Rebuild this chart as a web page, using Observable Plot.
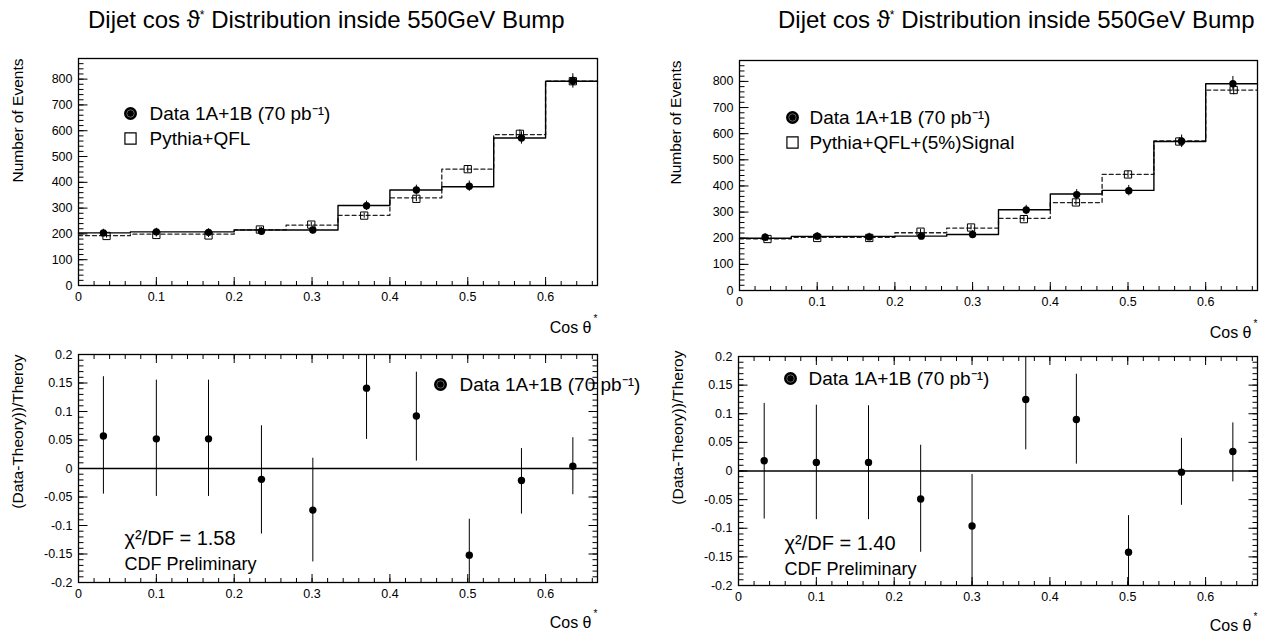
<!DOCTYPE html>
<html><head><meta charset="utf-8">
<script src="https://cdn.jsdelivr.net/npm/d3@7"></script>
<script src="https://cdn.jsdelivr.net/npm/@observablehq/plot@0.6"></script>
<style>
html,body{margin:0;padding:0;background:#fff;}
#root{position:relative;width:1268px;height:633px;overflow:hidden;background:#fff;}
.panel{position:absolute;}
.panel svg{overflow:visible;}
.title{position:absolute;font-family:"Liberation Sans",Arial,sans-serif;font-size:24px;color:#000;white-space:nowrap;line-height:1;}
.title sup{font-size:12px;vertical-align:9px;}
</style></head><body><div id="root"></div>
<script>
// ---------- data ----------
const nBins = 10;
const xMax = 2 / 3;
const xTickLabels = [0, 0.1, 0.2, 0.3, 0.4, 0.5, 0.6];
const countTicks = [0, 100, 200, 300, 400, 500, 600, 700, 800];
const residTicks = [-0.2, -0.15, -0.1, -0.05, 0, 0.05, 0.1, 0.15, 0.2];

// left column: Pythia+QFL
const dataXL = [0.032, 0.1, 0.167, 0.235, 0.301, 0.37, 0.434, 0.502, 0.569, 0.635];
const theoryXL = [0.036, 0.1, 0.167, 0.233, 0.299, 0.367, 0.434, 0.5, 0.567, 0.635];
const dataHistL = [204, 208, 208, 215, 215, 310, 370, 383, 572, 792];
const dataL = [204, 208, 206, 210, 215, 309, 370, 385, 572, 793];
const dataErrL = [14, 14, 14, 15, 15, 18, 19, 20, 24, 28];
const theoryHistL = [193, 199, 199, 216, 234, 272, 340, 451, 585, 792];
const theoryL = [192, 196, 194, 217, 236, 271, 336, 451, 588, 792];
const theoryErrL = [8, 8, 8, 9, 9, 10, 11, 13, 15, 18];
const residL = [0.057, 0.052, 0.052, -0.019, -0.073, 0.141, 0.092, -0.152, -0.021, 0.004];
const residHiL = [0.161, 0.155, 0.155, 0.075, 0.018, 0.23, 0.169, -0.089, 0.035, 0.054];
const residLoL = [-0.045, -0.049, -0.049, -0.115, -0.164, 0.051, 0.013, -0.215, -0.080, -0.046];

// right column: Pythia+QFL+(5%)Signal
const dataXR = [0.033, 0.1, 0.167, 0.234, 0.3, 0.369, 0.434, 0.501, 0.569, 0.635];
const theoryXR = [0.036, 0.1, 0.167, 0.233, 0.298, 0.366, 0.433, 0.5, 0.566, 0.636];
const dataHistR = [200, 207, 207, 208, 214, 309, 369, 383, 570, 791];
const dataR = [204, 208, 205, 208, 214, 308, 367, 382, 571, 791];
const dataErrR = [14, 14, 14, 14, 15, 18, 19, 20, 24, 28];
const theoryHistR = [198, 203, 203, 221, 239, 276, 336, 444, 572, 767];
const theoryR = [197, 201, 201, 225, 241, 273, 337, 444, 570, 767];
const theoryErrR = [8, 8, 8, 9, 9, 10, 11, 13, 15, 18];
const residR = [0.018, 0.015, 0.015, -0.049, -0.096, 0.125, 0.090, -0.142, -0.002, 0.034];
const residHiR = [0.118, 0.115, 0.114, 0.045, -0.006, 0.215, 0.169, -0.078, 0.057, 0.084];
const residLoR = [-0.084, -0.085, -0.085, -0.142, -0.205, 0.037, 0.012, -0.206, -0.060, -0.019];

const titleText = ["Dijet cos ϑ", "*", " Distribution inside 550GeV Bump"];
const legendData = "Data 1A+1B (70 pb⁻¹)";
const legendTheoryL = "Pythia+QFL";
const legendTheoryR = "Pythia+QFL+(5%)Signal";
const chiL = "χ²/DF = 1.58";
const chiR = "χ²/DF = 1.40";
const prelim = "CDF Preliminary";
const yLabelTop = "Number of Events";
const yLabelBottom = "(Data-Theory))/Theroy";
const xLabel = "Cos θ";

// ---------- helpers ----------
const FONT = "Liberation Sans, Arial, sans-serif";
const root = document.getElementById("root");
const edges = d3.range(nBins + 1).map(i => i * xMax / nBins);
const steps = hist => edges.map((e, i) => ({x: e, y: hist[Math.min(i, nBins - 1)]}));
const fmt = d => String(+d.toFixed(2));
const blank = () => "";

function place(svg, left, top) {
  const div = document.createElement("div");
  div.className = "panel";
  div.style.left = left + "px";
  div.style.top = top + "px";
  div.appendChild(svg);
  root.appendChild(div);
}

// inward ticks: y ticks as short segments, x ticks through Plot's own axis marks shifted inward
function frameTicks(yDom, yMajor, yMinor, box, W, H) {
  const xMinor = d3.range(0, xMax + 1e-9, 0.02);
  const kx = xMax / W;
  const segs = [];
  yMajor.forEach(v => segs.push({x1: 0, x2: 9 * kx, y: v}));
  yMinor.forEach(v => segs.push({x1: 0, x2: 5 * kx, y: v}));
  if (box) {
    yMajor.forEach(v => segs.push({x1: xMax, x2: xMax - 9 * kx, y: v}));
    yMinor.forEach(v => segs.push({x1: xMax, x2: xMax - 5 * kx, y: v}));
  }
  const tk = {tickFormat: blank, label: null, stroke: "black", strokeWidth: 1};
  const m = [
    Plot.link(segs, {x1: "x1", y1: "y", x2: "x2", y2: "y", stroke: "black", strokeWidth: 1}),
    Plot.axisX({anchor: "bottom", ticks: xTickLabels, tickSize: 8, dy: -8, ...tk}),
    Plot.axisX({anchor: "bottom", ticks: xMinor, tickSize: 4, dy: -4, ...tk})
  ];
  if (box) {
    m.push(
      Plot.axisX({anchor: "top", ticks: xTickLabels, tickSize: 8, dy: 8, ...tk}),
      Plot.axisX({anchor: "top", ticks: xMinor, tickSize: 4, dy: 4, ...tk})
    );
  }
  return m;
}

function axesAndLabels(yTicks, yLabel, yLabDx, yLabDy, xLabDy) {
  return [
    Plot.axisX({ticks: xTickLabels, tickSize: 0, tickPadding: 7, tickFormat: fmt, label: null, fontSize: 12.5}),
    Plot.axisY({ticks: yTicks, tickSize: 0, tickPadding: 6, tickFormat: fmt, label: null, fontSize: 12.5}),
    Plot.text([yLabel], {frameAnchor: "top-left", text: d => d, rotate: -90, textAnchor: "end", lineAnchor: "middle", dx: yLabDx, dy: yLabDy, fontSize: 15.5, fontFamily: FONT}),
    Plot.text([xLabel], {frameAnchor: "bottom-right", text: d => d, textAnchor: "end", lineAnchor: "middle", dx: -6, dy: xLabDy, fontSize: 16, fontFamily: FONT}),
    Plot.text(["*"], {frameAnchor: "bottom-right", text: d => d, textAnchor: "middle", lineAnchor: "middle", dx: -2, dy: xLabDy - 9, fontSize: 10, fontFamily: FONT})
  ];
}

function legendDot(dx, dy) {
  return [
    Plot.dot([0], {frameAnchor: "top-left", dx, dy, r: 6.5, fill: "black"}),
    Plot.dot([0], {frameAnchor: "top-left", dx, dy, r: 3.7, fill: "none", stroke: "#777", strokeWidth: 0.8})
  ];
}
function legendText(str, dx, dy, size = 19) {
  return Plot.text([str], {frameAnchor: "top-left", text: d => d, textAnchor: "start", lineAnchor: "middle", dx, dy, fontSize: size, fontFamily: FONT});
}

function topPanel({left, top, width, height, mL, mR, mT, mB, dataX, theoryX, dataHist, dataV, dataErr, theoryHist, theoryV, theoryErr, legendTheory, leg, yLabDx}) {
  const W = width - mL - mR, H = height - mT - mB;
  const yDom = [0, 880];
  const d = dataX.map((x, i) => ({x, y: dataV[i], lo: dataV[i] - dataErr[i], hi: dataV[i] + dataErr[i]}));
  const t = theoryX.map((x, i) => ({x, y: theoryV[i], lo: theoryV[i] - theoryErr[i], hi: theoryV[i] + theoryErr[i]}));
  const svg = Plot.plot({
    width, height, marginLeft: mL, marginRight: mR, marginTop: mT, marginBottom: mB,
    x: {domain: [0, xMax]}, y: {domain: yDom},
    style: {fontFamily: FONT, overflow: "visible", background: "transparent", color: "black"},
    marks: [
      Plot.line(steps(theoryHist), {x: "x", y: "y", curve: "step-after", stroke: "#222", strokeWidth: 1.3, strokeDasharray: "4,3"}),
      Plot.line(steps(dataHist), {x: "x", y: "y", curve: "step-after", stroke: "black", strokeWidth: 1.4}),
      Plot.ruleX(t, {x: "x", y1: "lo", y2: "hi", stroke: "black", strokeWidth: 1}),
      Plot.dot(t, {x: "x", y: "y", symbol: "square", r: 4.1, stroke: "black", strokeWidth: 1, fill: "none"}),
      Plot.ruleX(d, {x: "x", y1: "lo", y2: "hi", stroke: "black", strokeWidth: 1}),
      Plot.dot(d, {x: "x", y: "y", r: 3.7, fill: "black"}),
      ...frameTicks(yDom, countTicks, d3.range(0, 880, 20), false, W, H),
      Plot.frame({stroke: "black", strokeWidth: 1.3}),
      ...axesAndLabels(countTicks, yLabelTop, yLabDx, 0, 42),
      ...legendDot(leg.dx, leg.dy),
      legendText(legendData, leg.tx, leg.dy),
      Plot.dot([0], {frameAnchor: "top-left", dx: leg.dx, dy: leg.dy + 25, symbol: "square", r: 6.3, stroke: "black", strokeWidth: 1.2, fill: "none"}),
      legendText(legendTheory, leg.tx, leg.dy + 25)
    ]
  });
  place(svg, left, top);
}

function bottomPanel({left, top, width, height, mL, mR, mT, mB, dataX, resid, lo, hi, chi, leg, yLabDx, yLabDy}) {
  const W = width - mL - mR, H = height - mT - mB;
  const yDom = [-0.2, 0.2];
  const r = dataX.map((x, i) => ({x, y: resid[i], lo: lo[i], hi: hi[i]}));
  const svg = Plot.plot({
    width, height, marginLeft: mL, marginRight: mR, marginTop: mT, marginBottom: mB,
    x: {domain: [0, xMax]}, y: {domain: yDom},
    style: {fontFamily: FONT, overflow: "visible", background: "transparent", color: "black"},
    marks: [
      Plot.ruleY([0], {stroke: "black", strokeWidth: 1.3}),
      Plot.ruleX(r, {x: "x", y1: "lo", y2: "hi", stroke: "black", strokeWidth: 1, clip: true}),
      Plot.dot(r, {x: "x", y: "y", r: 3.7, fill: "black"}),
      ...frameTicks(yDom, residTicks, d3.range(-0.2, 0.2001, 0.01), true, W, H),
      Plot.frame({stroke: "black", strokeWidth: 1.3}),
      ...axesAndLabels(residTicks, yLabelBottom, yLabDx, yLabDy, 40),
      ...legendDot(leg.dx, leg.dy),
      legendText(legendData, leg.tx, leg.dy),
      legendText(chi, leg.cx, leg.cy, 20),
      legendText(prelim, leg.cx, leg.cy + 26, 18)
    ]
  });
  place(svg, left, top);
}

// ---------- titles ----------
function title(left) {
  const div = document.createElement("div");
  div.className = "title";
  div.style.left = left + "px";
  div.style.top = "8px";
  div.append(titleText[0]);
  const s = document.createElement("sup"); s.textContent = titleText[1]; div.append(s);
  div.append(titleText[2]);
  root.appendChild(div);
}
title(88);
title(778);

// ---------- panels ----------
topPanel({left: 0, top: 40, width: 634, height: 300, mL: 78, mR: 37, mT: 18, mB: 55,
  dataX: dataXL, theoryX: theoryXL, dataHist: dataHistL, dataV: dataL, dataErr: dataErrL,
  theoryHist: theoryHistL, theoryV: theoryL, theoryErr: theoryErrL, legendTheory: legendTheoryL,
  leg: {dx: 52, dy: 55, tx: 71}, yLabDx: -60});
topPanel({left: 634, top: 40, width: 634, height: 300, mL: 105, mR: 11, mT: 20, mB: 50,
  dataX: dataXR, theoryX: theoryXR, dataHist: dataHistR, dataV: dataR, dataErr: dataErrR,
  theoryHist: theoryHistR, theoryV: theoryR, theoryErr: theoryErrR, legendTheory: legendTheoryR,
  leg: {dx: 53, dy: 57, tx: 70}, yLabDx: -63});
bottomPanel({left: 0, top: 340, width: 634, height: 293, mL: 78, mR: 37, mT: 14, mB: 51,
  dataX: dataXL, resid: residL, lo: residLoL, hi: residHiL, chi: chiL,
  leg: {dx: 362, dy: 30, tx: 381, cx: 46, cy: 184}, yLabDx: -60, yLabDy: 0});
bottomPanel({left: 634, top: 340, width: 634, height: 293, mL: 104, mR: 11, mT: 16, mB: 48,
  dataX: dataXR, resid: residR, lo: residLoR, hi: residHiR, chi: chiR,
  leg: {dx: 52, dy: 22, tx: 70, cx: 46, cy: 187}, yLabDx: -60, yLabDy: -6});
</script>
</body></html>
